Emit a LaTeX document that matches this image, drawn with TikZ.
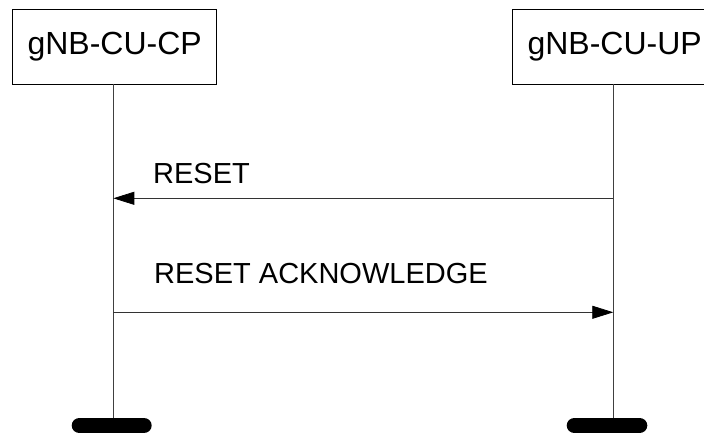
\documentclass[tikz,border=0pt]{standalone}
\usepackage{fontspec}
\setmainfont{Liberation Sans}
\usetikzlibrary{arrows.meta}
\begin{document}
\begin{tikzpicture}[x=1pt,y=-1pt,
  entity/.style={draw,line width=0.8pt,minimum width=204pt,minimum height=74.7pt,inner sep=0pt,font=\fontsize{32}{32}\selectfont},
  life/.style={line width=0.8pt,draw=black!75},
  msg/.style={line width=0.8pt,draw=black!80,-{Triangle[length=21pt,width=13pt,fill=black,color=black]}},
  lbl/.style={anchor=base west,inner sep=0pt,font=\fontsize{29}{29}\selectfont},
  endbar/.style={line width=15.6pt,line cap=round}]
\useasboundingbox (0,0) rectangle (704,435);
\clip (0,0) rectangle (704,435);
\node[entity] (cp) at (114.7,46.7) {gNB-CU-CP};
\node[entity] (up) at (614.7,46.7) {gNB-CU-UP};
\coordinate (cpend) at (113.3,418);
\coordinate (upend) at (613.3,418);
\coordinate (cptop) at (113.3,84);
\coordinate (uptop) at (613.3,84);
\draw[life] (cptop) -- (cpend);
\draw[life] (uptop) -- (upend);
\coordinate (r1s) at (613.3,198.3);
\coordinate (r1e) at (113.3,198.3);
\coordinate (r2s) at (113.3,312.3);
\coordinate (r2e) at (613.3,312.3);
\draw[msg] (r1s) -- (r1e);
\draw[msg] (r2s) -- (r2e);
\node[lbl] (l1) at (153,184) {RESET};
\node[lbl] (l2) at (154,283.5) {RESET ACKNOWLEDGE};
\coordinate (b1a) at (79.5,425.5);
\coordinate (b1b) at (143.9,425.5);
\coordinate (b2a) at (574.5,425.5);
\coordinate (b2b) at (639.5,425.5);
\draw[endbar] (b1a) -- (b1b);
\draw[endbar] (b2a) -- (b2b);
\end{tikzpicture}
\end{document}
